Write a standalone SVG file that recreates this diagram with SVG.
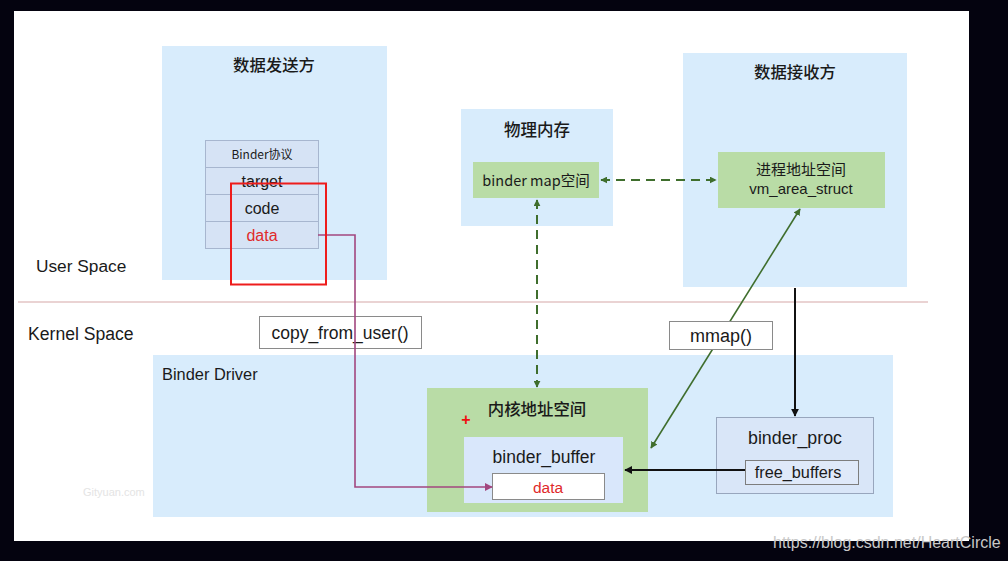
<svg xmlns="http://www.w3.org/2000/svg" width="1008" height="561" viewBox="0 0 1008 561">
<style>
.bg{fill:#d8ecfc}
.green{fill:#b9dca6}
.t{font-family:"Liberation Sans",Arial,sans-serif;fill:#1a1a1a}
.cn{font-family:"Noto Sans CJK SC","Liberation Sans",sans-serif;fill:#1a1a1a}
.row{fill:#d6e3f5;stroke:#a7b6cf;stroke-width:1}
.lbl{fill:#ffffff;stroke:#8a8a8a;stroke-width:1}
.dash{fill:none;stroke:#3f6e2d;stroke-width:2;stroke-dasharray:9,6}
</style>
<defs>
<marker id="ag" viewBox="0 0 10 10" refX="9" refY="5" markerWidth="7" markerHeight="7" orient="auto-start-reverse" markerUnits="userSpaceOnUse"><path d="M0,0 L10,5 L0,10 z" fill="#3f6e2d"/></marker>
<marker id="ak" viewBox="0 0 10 10" refX="9" refY="5" markerWidth="8" markerHeight="8" orient="auto-start-reverse" markerUnits="userSpaceOnUse"><path d="M0,0 L10,5 L0,10 z" fill="#111"/></marker>
<marker id="ap" viewBox="0 0 10 10" refX="9" refY="5" markerWidth="8" markerHeight="8" orient="auto" markerUnits="userSpaceOnUse"><path d="M0,0 L10,5 L0,10 z" fill="#a2477f"/></marker>
</defs>
<rect x="0" y="0" width="1008" height="561" fill="#04030f"/>
<rect x="14" y="11" width="955" height="530" fill="#ffffff"/>

<line x1="18" y1="302" x2="928" y2="302" stroke="#e3c4c4" stroke-width="1.5"/>
<text class="t" x="36" y="272" font-size="17.3">User Space</text>
<text class="t" x="28" y="340" font-size="17.6">Kernel Space</text>

<g id="sender">
<rect class="bg" x="162" y="46" width="225" height="234"/>
<text class="cn" x="274" y="71" font-size="16.4" text-anchor="middle" font-weight="500">数据发送方</text>
<g id="binder-protocol">
<rect class="row" x="205.5" y="140.5" width="113" height="27"/>
<rect class="row" x="205.5" y="167.5" width="113" height="27"/>
<rect class="row" x="205.5" y="194.5" width="113" height="27"/>
<rect class="row" x="205.5" y="221.5" width="113" height="27"/>
<text class="cn" x="262" y="159" font-size="12" text-anchor="middle">Binder协议</text>
<text class="t" x="262" y="187" font-size="16" text-anchor="middle">target</text>
<text class="t" x="262" y="214" font-size="16" text-anchor="middle">code</text>
<text class="t" x="262" y="241" font-size="16" text-anchor="middle" style="fill:#e02a2a">data</text>
</g>
</g>

<g id="physical-memory">
<rect class="bg" x="461" y="109" width="152" height="117"/>
<text class="cn" x="537" y="136" font-size="16.5" text-anchor="middle" font-weight="500">物理内存</text>
<rect class="green" x="473" y="162" width="126" height="36"/>
<text class="cn" x="536" y="186" font-size="14.5" text-anchor="middle">binder map空间</text>
</g>

<g id="receiver">
<rect class="bg" x="683" y="53" width="224" height="234"/>
<text class="cn" x="795" y="78" font-size="16.4" text-anchor="middle" font-weight="500">数据接收方</text>
<rect class="green" x="718" y="152" width="167" height="56"/>
<text class="cn" x="801" y="175" font-size="15" text-anchor="middle">进程地址空间</text>
<text class="t" x="801" y="194" font-size="15" text-anchor="middle">vm_area_struct</text>
</g>

<g id="binder-driver">
<rect class="bg" x="153" y="355" width="740" height="162"/>
<text class="t" x="162" y="380" font-size="16.4">Binder Driver</text>
<text x="83" y="496" font-family="Liberation Sans,Arial,sans-serif" font-size="11" fill="#e4e4e4">Gityuan.com</text>
</g>

<g id="kernel-address-space">
<rect class="green" x="427" y="388" width="221" height="124"/>
<text class="cn" x="537" y="415" font-size="16.4" text-anchor="middle" font-weight="500">内核地址空间</text>
<text x="466" y="425" font-family="Liberation Sans,Arial,sans-serif" font-size="16" font-weight="bold" fill="#f01010" text-anchor="middle">+</text>
</g>

<g id="binder-buffer">
<rect x="464" y="437" width="159" height="66" fill="#d9e7fb"/>
<text class="t" x="544" y="463" font-size="17.5" text-anchor="middle">binder_buffer</text>
<rect class="lbl" x="492.5" y="473.5" width="112" height="26"/>
<text class="t" x="548" y="493" font-size="15.5" text-anchor="middle" style="fill:#e02a2a">data</text>
</g>

<g id="binder-proc">
<rect x="716.5" y="417.5" width="157" height="76" fill="#d9e6f8" stroke="#98a6bd" stroke-width="1"/>
<text class="t" x="795" y="444" font-size="17.8" text-anchor="middle">binder_proc</text>
<rect x="745.5" y="460.5" width="113" height="24" fill="#dfe9f9" stroke="#7d7d7d" stroke-width="1"/>
<text class="t" x="798" y="478" font-size="16.3" text-anchor="middle">free_buffers</text>
</g>

<g id="labels-under">
<rect class="lbl" x="259.5" y="316.5" width="162" height="32"/>
<text class="t" x="340" y="339" font-size="17.5" text-anchor="middle">copy_from_user()</text>
</g>

<g id="connectors">
<line class="dash" x1="601" y1="180" x2="716" y2="180" marker-start="url(#ag)" marker-end="url(#ag)"/>
<line class="dash" x1="537" y1="200" x2="537" y2="387" marker-start="url(#ag)" marker-end="url(#ag)"/>
<line x1="651" y1="448" x2="800" y2="209" stroke="#3f6e2d" stroke-width="1.6" marker-start="url(#ag)" marker-end="url(#ag)"/>
<line x1="795" y1="288" x2="795" y2="416" stroke="#111" stroke-width="2" marker-end="url(#ak)"/>
<line x1="745" y1="470" x2="625" y2="470" stroke="#111" stroke-width="2" marker-end="url(#ak)"/>
<polyline points="318,235 355,235 355,487 492,487" fill="none" stroke="#a2477f" stroke-width="1.6" marker-end="url(#ap)"/>
</g>

<g id="mmap">
<rect class="lbl" x="669.5" y="321.5" width="103" height="28"/>
<text class="t" x="721" y="342" font-size="18" text-anchor="middle">mmap()</text>
</g>

<rect x="231" y="183.5" width="95" height="101" fill="none" stroke="#ee1c1c" stroke-width="2"/>

<text x="773" y="548" font-family="Liberation Sans,Arial,sans-serif" font-size="16" fill="#c8c8c8">https://blog.csdn.net/HeartCircle</text>
</svg>
